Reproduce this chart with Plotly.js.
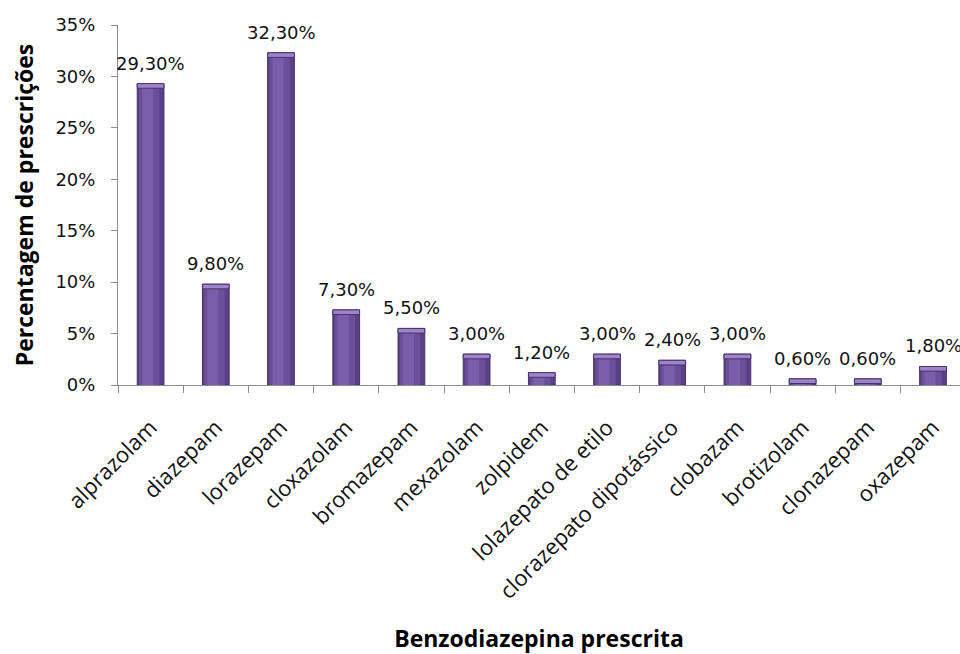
<!DOCTYPE html>
<html>
<head>
<meta charset="utf-8">
<script src="https://cdn.plot.ly/plotly-3.0.1.min.js"></script>
<style>
  html, body { margin: 0; padding: 0; background: #ffffff; }
  #chart { width: 960px; height: 654px; }
</style>
</head>
<body>
<div id="chart"></div>
<script>
// Benzodiazepine prescriptions, share of all prescriptions (%)
const categories = [
  'alprazolam', 'diazepam', 'lorazepam', 'cloxazolam', 'bromazepam',
  'mexazolam', 'zolpidem', 'lolazepato de etilo', 'clorazepato dipotássico',
  'clobazam', 'brotizolam', 'clonazepam', 'oxazepam'
];
const percentages = [29.3, 9.8, 32.3, 7.3, 5.5, 3.0, 1.2, 3.0, 2.4, 3.0, 0.6, 0.6, 1.8];
const yTicks = [0, 5, 10, 15, 20, 25, 30, 35];

const labels = percentages.map(v => v.toFixed(2).replace('.', ',') + '%');
const capHeight = 0.45;               // light bevel at the top of each bar
const capBase = percentages.map(v => Math.max(0, v - capHeight));
const capSize = percentages.map((v, i) => v - capBase[i]);

const labelFont = { family: 'DejaVu Sans, sans-serif', size: 18, color: '#111111' };

const traces = [
  // outer body (dark edges)
  {
    type: 'bar', x: categories, y: percentages, width: 0.41,
    marker: { color: '#5a4185', line: { color: '#47336b', width: 1 } },
    hovertext: labels, hoverinfo: 'x+text'
  },
  // middle shading
  {
    type: 'bar', x: categories, y: percentages, width: 0.31, offset: -0.175,
    marker: { color: '#6b4f99', line: { width: 0 } }, hoverinfo: 'skip'
  },
  // highlight band
  {
    type: 'bar', x: categories, y: percentages, width: 0.17, offset: -0.13,
    marker: { color: '#7a5dab', line: { width: 0 } }, hoverinfo: 'skip'
  },
  // top bevel
  {
    type: 'bar', x: categories, y: capSize, base: capBase, width: 0.41,
    marker: { color: '#9f84cc', line: { color: '#47336b', width: 1 } }, hoverinfo: 'skip'
  }
];

// value labels sitting just above each bar
const valueLabels = categories.map((c, i) => ({
  x: c, y: percentages[i], xref: 'x', yref: 'y',
  text: labels[i], showarrow: false,
  xanchor: 'center', yanchor: 'bottom', yshift: 8,
  font: labelFont
}));

const layout = {
  width: 960, height: 654,
  margin: { l: 118, r: 0, t: 25, b: 269 },
  paper_bgcolor: '#ffffff', plot_bgcolor: '#ffffff',
  barmode: 'overlay', showlegend: false,
  font: { family: 'Open Sans, sans-serif', color: '#111111' },
  annotations: valueLabels,
  xaxis: {
    type: 'category',
    range: [-0.5, 12.414],
    tickangle: -45,
    ticks: 'outside', ticklen: 7, tickcolor: '#8c8c8c', tickson: 'boundaries',
    ticklabelstandoff: 20,
    showline: true, linecolor: '#8c8c8c', linewidth: 1,
    showgrid: false, zeroline: false,
    tickfont: { family: 'Open Sans, sans-serif', size: 22, color: '#111111' },
    title: {
      text: 'Benzodiazepina prescrita',
      font: { family: 'Open Sans, sans-serif', size: 23, color: '#000000', weight: 'bold' },
      standoff: 32
    },
    automargin: false
  },
  yaxis: {
    range: [0, 35],
    tickvals: yTicks,
    ticktext: yTicks.map(v => v + '%'),
    ticks: 'outside', ticklen: 6, tickcolor: '#8c8c8c',
    ticklabelstandoff: 12,
    showline: true, linecolor: '#8c8c8c', linewidth: 1,
    showgrid: false, zeroline: false,
    tickfont: { family: 'DejaVu Sans, sans-serif', size: 18, color: '#111111' },
    title: {
      text: 'Percentagem de prescrições',
      font: { family: 'Open Sans, sans-serif', size: 23, color: '#000000', weight: 'bold' },
      standoff: 15
    },
    automargin: false
  }
};

Plotly.newPlot('chart', traces, layout, { displayModeBar: false, staticPlot: true });
</script>
</body>
</html>
